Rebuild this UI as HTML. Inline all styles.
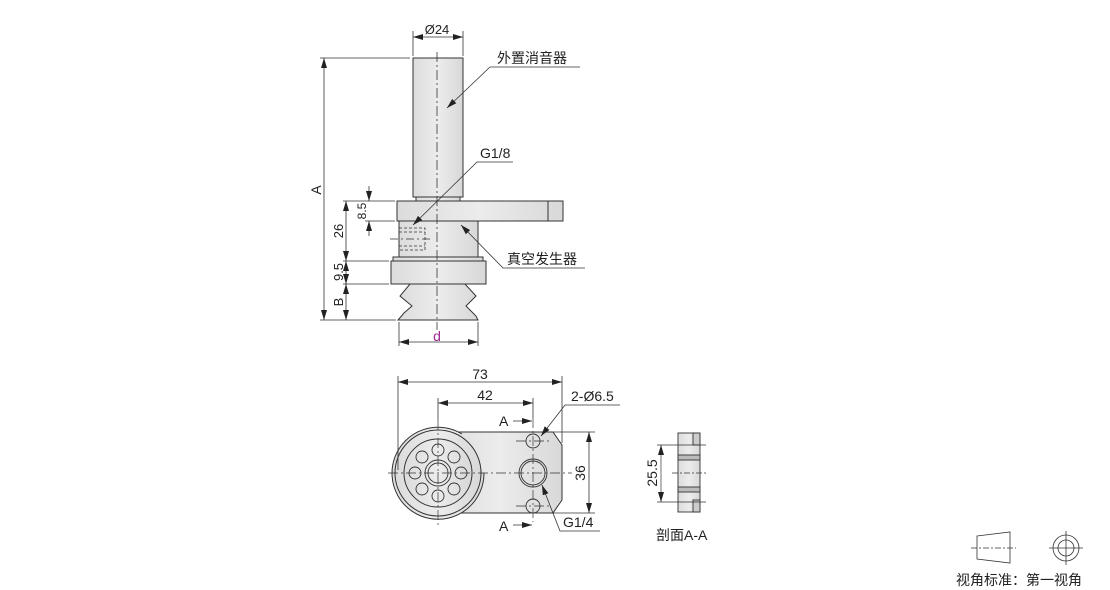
<!DOCTYPE html>
<html><head><meta charset="utf-8"><style>
body{margin:0;background:#fff;width:1110px;height:590px;overflow:hidden}
svg{display:block}
text{font-family:"Liberation Sans","Noto Sans CJK SC",sans-serif;fill:#222}
</style></head><body>
<svg width="1110" height="590" viewBox="0 0 1110 590" xmlns="http://www.w3.org/2000/svg">
<defs>
<marker id="a" viewBox="0 0 10 6" refX="10" refY="3" markerWidth="10" markerHeight="6" orient="auto-start-reverse" markerUnits="userSpaceOnUse"><path d="M0,0 L10,3 L0,6 z" fill="#222"/></marker>
<linearGradient id="g" x1="0" x2="1"><stop offset="0" stop-color="#dcdcdc"/><stop offset=".5" stop-color="#ececec"/><stop offset="1" stop-color="#d8d8d8"/></linearGradient>
</defs>
<g stroke="#333" stroke-width="1" fill="url(#g)">
<rect x="413" y="58" width="50" height="139"/>
<rect x="416" y="197" width="44" height="4"/>
<rect x="397" y="201" width="166" height="20"/>
<line x1="548" y1="201" x2="548" y2="221"/>
<rect x="399" y="221" width="79" height="36"/>
<rect x="393" y="257" width="90" height="4"/>
<rect x="391" y="261" width="95" height="23"/>
<path d="M410,284 L465,284 L476,296 L466,306 L476,316 L478,320 L398,320 L404,313 L412,306 L400,296 Z"/>
</g>
<g stroke="#333" stroke-width="0.8" fill="none" stroke-dasharray="3,2">
<rect x="399" y="228" width="26" height="22"/>
<line x1="399" y1="232" x2="425" y2="232"/><line x1="399" y1="246" x2="425" y2="246"/>
</g>
<line x1="390" y1="239" x2="432" y2="239" stroke="#333" stroke-width=".8" stroke-dasharray="8,3,2,3"/>
<line x1="437" y1="52" x2="437" y2="330" stroke="#333" stroke-width=".8" stroke-dasharray="10,3,2,3"/>
<g stroke="#333" stroke-width=".8" fill="none">
<line x1="413" y1="31" x2="413" y2="56"/><line x1="463" y1="31" x2="463" y2="56"/>
<line x1="413" y1="37" x2="463" y2="37" marker-start="url(#a)" marker-end="url(#a)"/>
<line x1="320" y1="58" x2="410" y2="58"/>
<line x1="324" y1="58" x2="324" y2="320" marker-start="url(#a)" marker-end="url(#a)"/>
<line x1="343" y1="201" x2="395" y2="201"/><line x1="365" y1="221" x2="395" y2="221"/>
<line x1="369" y1="186" x2="369" y2="201" marker-end="url(#a)"/><line x1="369" y1="236" x2="369" y2="221" marker-end="url(#a)"/>
<line x1="346" y1="201" x2="346" y2="261" marker-start="url(#a)" marker-end="url(#a)"/>
<line x1="343" y1="261" x2="389" y2="261"/><line x1="343" y1="284" x2="389" y2="284"/>
<line x1="346" y1="261" x2="346" y2="284" marker-start="url(#a)" marker-end="url(#a)"/>
<line x1="346" y1="284" x2="346" y2="320" marker-start="url(#a)" marker-end="url(#a)"/>
<line x1="320" y1="320" x2="396" y2="320"/>
<line x1="399" y1="322" x2="399" y2="346"/><line x1="478" y1="322" x2="478" y2="346"/>
<line x1="399" y1="342" x2="478" y2="342" marker-start="url(#a)" marker-end="url(#a)"/>
<polyline points="580,67 490,67 447,108" marker-end="url(#a)"/>
<polyline points="513,162 477,162 413,225" marker-end="url(#a)"/>
<polyline points="585,268 503,268 461,225" marker-end="url(#a)"/>
</g>
<text x="437" y="34" font-size="13" text-anchor="middle">Ø24</text>
<text x="497" y="63" font-size="14">外置消音器</text>
<text x="480" y="158" font-size="14">G1/8</text>
<text x="507" y="264" font-size="14">真空发生器</text>
<text x="437" y="341" font-size="14" text-anchor="middle" style="fill:#a0278f">d</text>
<text transform="translate(321,190) rotate(-90)" font-size="14" text-anchor="middle">A</text>
<text transform="translate(366,211) rotate(-90)" font-size="12" text-anchor="middle">8.5</text>
<text transform="translate(343,231) rotate(-90)" font-size="13" text-anchor="middle">26</text>
<text transform="translate(343,272) rotate(-90)" font-size="13" text-anchor="middle">9.5</text>
<text transform="translate(343,302) rotate(-90)" font-size="13" text-anchor="middle">B</text>

<!-- bottom view -->
<g stroke="#333" stroke-width="1" fill="url(#g)">
<path d="M438,432 L553,432 L562,445 L562,500 L553,513 L438,513 Z"/>
<path d="M484,473 A46,46 0 1 1 462,434" fill="url(#g)"/>
<circle cx="438" cy="473" r="43"/>
<circle cx="438" cy="473" r="34"/>
</g>
<g stroke="#333" stroke-width=".9" fill="none">
<circle cx="438" cy="473" r="13"/><circle cx="438" cy="473" r="10"/>
<circle cx="461" cy="473" r="6"/><circle cx="415" cy="473" r="6"/>
<circle cx="438" cy="450" r="6"/><circle cx="438" cy="496" r="6"/>
<circle cx="454" cy="457" r="6"/><circle cx="422" cy="457" r="6"/>
<circle cx="454" cy="489" r="6"/><circle cx="422" cy="489" r="6"/>
<circle cx="533" cy="473" r="14"/><circle cx="533" cy="473" r="12"/>
<circle cx="533" cy="441" r="7"/><circle cx="533" cy="506" r="7"/>
</g>
<g stroke="#333" stroke-width=".7" fill="none" stroke-dasharray="10,3,2,3">
<line x1="388" y1="473" x2="572" y2="473"/>
<line x1="438" y1="420" x2="438" y2="526"/>
<line x1="533" y1="418" x2="533" y2="522"/>
<line x1="516" y1="441" x2="550" y2="441"/><line x1="516" y1="506" x2="550" y2="506"/>
</g>
<g stroke="#333" stroke-width=".8" fill="none">
<line x1="398" y1="376" x2="398" y2="470"/><line x1="562" y1="376" x2="562" y2="443"/>
<line x1="398" y1="382" x2="562" y2="382" marker-start="url(#a)" marker-end="url(#a)"/>
<line x1="438" y1="398" x2="438" y2="420"/><line x1="533" y1="398" x2="533" y2="418"/>
<line x1="438" y1="403" x2="533" y2="403" marker-start="url(#a)" marker-end="url(#a)"/>
<line x1="553" y1="432" x2="595" y2="432"/><line x1="540" y1="513" x2="595" y2="513"/>
<line x1="589" y1="432" x2="589" y2="513" marker-start="url(#a)" marker-end="url(#a)"/>
<line x1="513" y1="421" x2="532" y2="421" marker-end="url(#a)"/>
<line x1="513" y1="525" x2="532" y2="525" marker-end="url(#a)"/>
<polyline points="620,405 565,405 541,436" marker-end="url(#a)"/>
<polyline points="600,531 560,531 542,485" marker-end="url(#a)"/>
</g>
<text x="480" y="379" font-size="14" text-anchor="middle">73</text>
<text x="485" y="400" font-size="14" text-anchor="middle">42</text>
<text x="499" y="426" font-size="14">A</text>
<text x="499" y="531" font-size="14">A</text>
<text x="571" y="401" font-size="14">2-Ø6.5</text>
<text x="563" y="527" font-size="14">G1/4</text>
<text transform="translate(585,473) rotate(-90)" font-size="14" text-anchor="middle">36</text>

<!-- section -->
<g stroke="#333" stroke-width=".9">
<rect x="678" y="433" width="22" height="79" fill="url(#g)"/>
<rect x="693" y="433" width="7" height="12" fill="#ccc"/>
<rect x="693" y="500" width="7" height="12" fill="#ccc"/>
<rect x="678" y="455" width="22" height="5" fill="#bbb"/>
<rect x="678" y="487" width="22" height="5" fill="#bbb"/>
</g>
<g stroke="#333" stroke-width=".7" fill="none">
<line x1="657" y1="445" x2="706" y2="445"/><line x1="657" y1="502" x2="706" y2="502"/>
<line x1="672" y1="473" x2="706" y2="473" stroke-dasharray="6,2,2,2"/>
<line x1="661" y1="445" x2="661" y2="502" marker-start="url(#a)" marker-end="url(#a)"/>
</g>
<text transform="translate(657,473) rotate(-90)" font-size="14" text-anchor="middle">25.5</text>
<text x="656" y="540" font-size="14">剖面A-A</text>

<!-- projection symbol -->
<g stroke="#333" stroke-width=".8" fill="none">
<path d="M977,536 L1010,532 L1010,563 L977,559 Z"/>
<line x1="971" y1="548" x2="1016" y2="548" stroke-dasharray="6,2,2,2"/>
<circle cx="1066" cy="548" r="13"/><circle cx="1066" cy="548" r="8"/>
<line x1="1049" y1="548" x2="1083" y2="548"/><line x1="1066" y1="531" x2="1066" y2="565"/>
</g>
<text x="956" y="585" font-size="14">视角标准：第一视角</text>
</svg>
</body></html>
